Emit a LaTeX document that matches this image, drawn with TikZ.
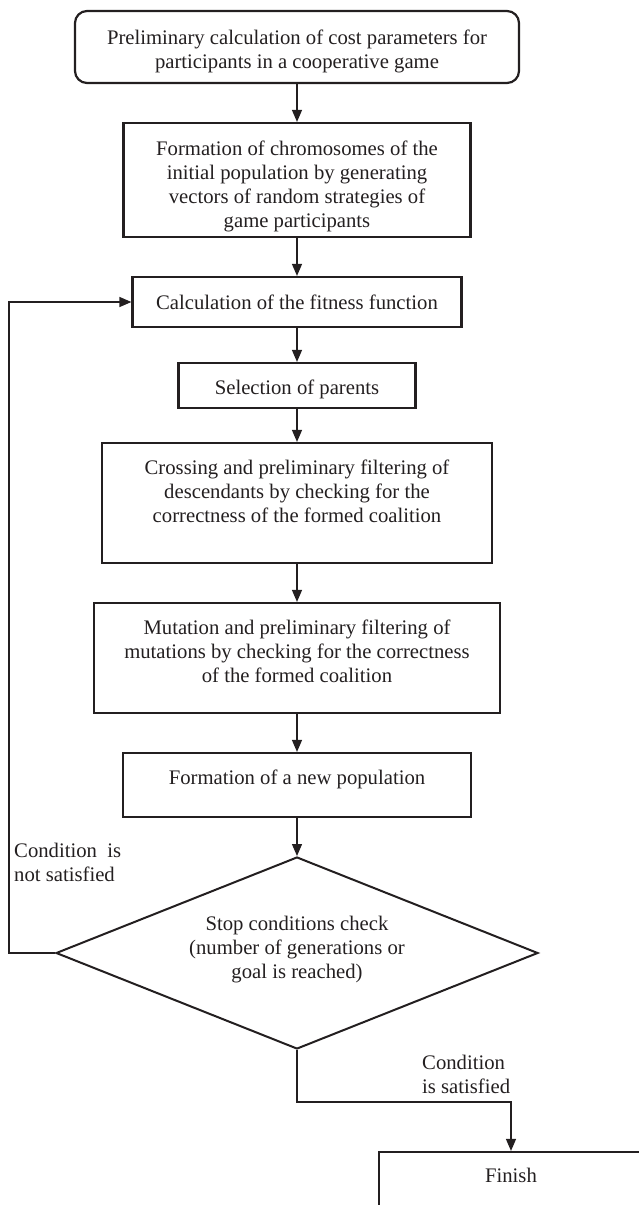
\documentclass[tikz,border=0pt]{standalone}
\usepackage{fontspec}
\setmainfont{Liberation Serif}
\usetikzlibrary{arrows.meta,shapes.geometric}
\definecolor{FCInk}{HTML}{231F20}
\newcommand{\flowfont}{\fontsize{20.7}{24}\selectfont}
\tikzset{
  flow/.style={-{Triangle[length=12pt,width=10pt]},FCInk,line width=1.3pt},
  stepbox/.style={draw=FCInk,line width=2.2pt,text=FCInk,font=\flowfont,
                  align=center,inner xsep=4pt,inner ysep=0pt},
  startbox/.style={stepbox,rounded corners=12pt},
  decision/.style={diamond,aspect=2.5,draw=FCInk,line width=2pt,text=FCInk,
                   font=\flowfont,align=center,inner sep=2pt},
  note/.style={text=FCInk,font=\flowfont,align=left,inner sep=0pt,anchor=north west},
}
\begin{document}
\begin{tikzpicture}[x=1pt,y=-1pt]
  \useasboundingbox (0,0) rectangle (639,1205);
  % main chain of steps
  \node[startbox,minimum width=444pt,text height=57pt,text depth=15pt] (prelim) at (297,47)
    {Preliminary calculation of cost parameters for\\participants in a cooperative game};
  \node[stepbox,minimum width=347pt,text height=104pt,text depth=10pt] (chromo) at (297,180)
    {Formation of chromosomes of the\\initial population by generating\\vectors of random strategies of\\game participants};
  \node[stepbox,minimum width=329pt,text height=32pt,text depth=18pt] (fitness) at (297,302)
    {Calculation of the fitness function};
  \node[stepbox,minimum width=237pt,text height=31pt,text depth=14pt] (select) at (297,385.5)
    {Selection of parents};
  \node[stepbox,minimum width=390pt,text height=79pt,text depth=41pt] (cross) at (297,503)
    {Crossing and preliminary filtering of\\descendants by checking for the\\correctness of the formed coalition};
  \node[stepbox,minimum width=406pt,text height=79pt,text depth=31pt] (mutate) at (297,658)
    {Mutation and preliminary filtering of\\mutations by checking for the correctness\\of the formed coalition};
  \node[stepbox,minimum width=348pt,text height=31pt,text depth=33pt] (newpop) at (297,785)
    {Formation of a new population};
  \node[decision,minimum width=482pt,minimum height=192pt,text height=64pt,text depth=14pt] (stop) at (297,953)
    {Stop conditions check\\(number of generations or\\goal is reached)};
  \node[stepbox,minimum width=264pt,text height=30pt,text depth=40pt] (finish) at (511,1187)
    {Finish};

  \node[note] (notsat) at (14,843) {Condition~ is\\not satisfied};
  \node[note] (sat) at (422,1055) {Condition\\is satisfied};

  \coordinate (loopx) at (9,600);
  \coordinate (bend) at (297,1102);

  \draw[flow] (prelim) -- (chromo);
  \draw[flow] (chromo) -- (fitness);
  \draw[flow] (fitness) -- (select);
  \draw[flow] (select) -- (cross);
  \draw[flow] (cross) -- (mutate);
  \draw[flow] (mutate) -- (newpop);
  \draw[flow] (newpop) -- (stop);
  \draw[flow] (stop.west) -| (loopx) |- (fitness.west);
  \draw[flow] (stop.south) -- (bend) -| (finish.north);
\end{tikzpicture}
\end{document}
